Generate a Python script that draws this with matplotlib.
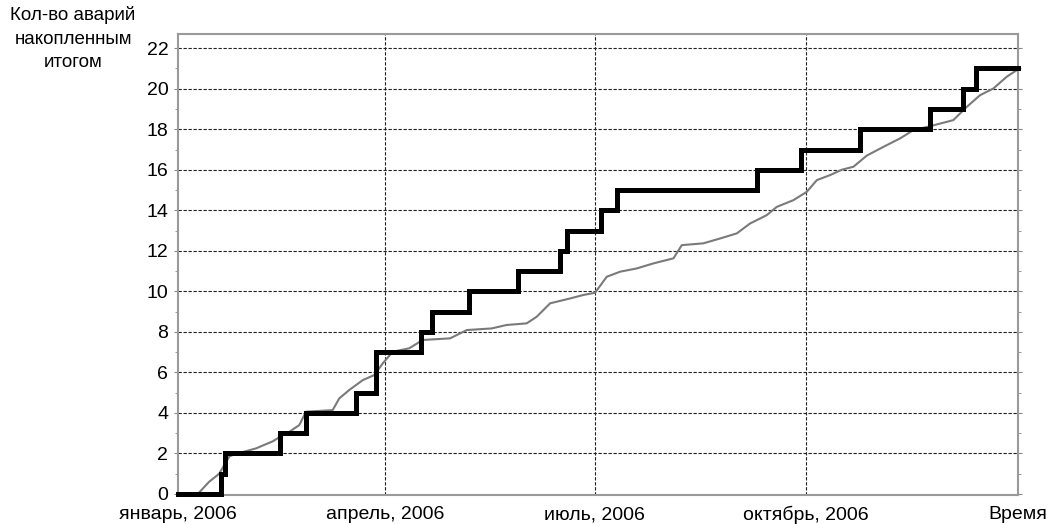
import numpy as np
import matplotlib
matplotlib.use('Agg')
import matplotlib.pyplot as plt

plt.rcParams['font.family'] = ['Liberation Sans', 'DejaVu Sans']

# фактические аварии: день года (от 1 января 2006) и накопленное число
fact_days = [0, 18.7, 20.6, 44.3, 55.6, 77.4, 86.0, 105.6, 110.5, 126.6, 147.6,
             166.0, 168.9, 183.8, 190.9, 251.5, 270.8, 296.4, 326.8, 341.3, 346.8, 365]
fact_count = [0, 1, 2, 3, 4, 5, 7, 8, 9, 10, 11, 12, 13, 14, 15, 16, 17, 18, 19, 20, 21, 21]

# модельная (ожидаемая) кривая
model_days = [0, 8.6, 13.5, 17.9, 22.3, 24.3, 33.9, 41.2, 44.0, 48.4, 52.7, 55.6, 67.2,
              70.1, 74.4, 80.3, 85.3, 89.0, 93.3, 100.5, 106.3, 118.2, 125.5, 136.3,
              142.8, 151.5, 155.9, 161.7, 170.4, 176.1, 181.2, 186.3, 192.1, 199.3,
              206.6, 215.3, 218.9, 228.3, 235.6, 242.8, 248.6, 255.8, 260.2, 267.4,
              273.2, 277.6, 283.4, 288.4, 293.5, 299.3, 306.5, 313.8, 319.6, 326.8,
              336.9, 342.7, 348.5, 354.3, 360.1, 364.5, 365]
model_count = [0, 0, 0.6, 1.0, 1.85, 1.95, 2.25, 2.6, 2.8, 3.07, 3.4, 4.06, 4.14,
               4.72, 5.13, 5.62, 5.87, 6.45, 7.02, 7.19, 7.6, 7.68, 8.09, 8.17,
               8.34, 8.42, 8.75, 9.41, 9.65, 9.82, 9.93, 10.72, 10.97, 11.13,
               11.38, 11.63, 12.28, 12.37, 12.61, 12.86, 13.35, 13.76, 14.17, 14.5,
               14.91, 15.49, 15.74, 16.0, 16.15, 16.7, 17.13, 17.55, 17.96, 18.15,
               18.45, 19.1, 19.68, 20.01, 20.59, 20.92, 20.95]

tick_days = [0, 90, 181, 273, 365]
tick_labels = ['январь, 2006', 'апрель, 2006', 'июль, 2006', 'октябрь, 2006', 'Время']

fig = plt.figure(figsize=(10.58, 5.24), dpi=100)
ax = fig.add_axes([178/1058, 1-495/524, 840/1058, 461/524])

ax.plot(model_days, model_count, color='#7a7a7a', lw=1.5, zorder=3)
ax.step(fact_days, fact_count, where='post', color='black', lw=3.6, zorder=4,
        clip_on=False, solid_joinstyle='miter')

ax.set_xlim(0, 365)
ax.set_ylim(-0.05, 22.7)
ax.set_xticks(tick_days)
ax.set_xticklabels(tick_labels, fontsize=14)
ax.set_yticks(range(0, 23, 2))
ax.set_yticks(range(1, 23, 2), minor=True)
ax.tick_params(axis='y', labelsize=14, length=3, color='#888888', pad=4, right=True)
ax.tick_params(axis='y', which='minor', length=2, color='#888888', right=True)
ax.tick_params(axis='x', length=0, pad=8)

for v in range(2, 23, 2):
    ax.axhline(v, color='#222222', lw=0.8, ls=(0, (3, 1.5)), zorder=1)
for d in tick_days[1:4]:
    ax.axvline(d, color='#222222', lw=0.8, ls=(0, (3, 1.5)), zorder=1)

for s in ax.spines.values():
    s.set_color('#9a9a9a')
    s.set_linewidth(1.5)

fig.text(73/1058, 1-6/524, 'Кол-во аварий\nнакопленным\nитогом', ha='center', va='top',
         fontsize=13.5, linespacing=1.5)

fig.savefig('out.png', dpi=100)
